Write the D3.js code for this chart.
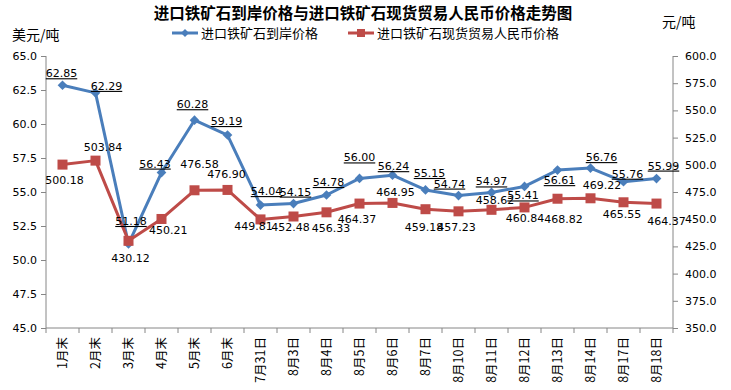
<!DOCTYPE html>
<html><head><meta charset="utf-8">
<script src="https://cdn.jsdelivr.net/npm/d3@7"></script>
<style>body{margin:0;background:#fff}svg{display:block}</style>
</head><body><svg id="c" width="731" height="390"></svg>
<script>
const title = "进口铁矿石到岸价格与进口铁矿石现货贸易人民币价格走势图";
const seriesNames = ["进口铁矿石到岸价格", "进口铁矿石现货贸易人民币价格"];
const leftUnit = "美元/吨";
const rightUnit = "元/吨";
const categories = ["1月末","2月末","3月末","4月末","5月末","6月末","7月31日","8月3日","8月4日","8月5日","8月6日","8月7日","8月10日","8月11日","8月12日","8月13日","8月14日","8月17日","8月18日"];
const usdPrice = [62.85,62.29,51.18,56.43,60.28,59.19,54.04,54.15,54.78,56.00,56.24,55.15,54.74,54.97,55.41,56.61,56.76,55.76,55.99];
const rmbPrice = [500.18,503.84,430.12,450.21,476.58,476.90,449.81,452.48,456.33,464.37,464.95,459.18,457.23,458.62,460.84,468.82,469.22,465.55,464.37];
const leftTicks = [45.0,47.5,50.0,52.5,55.0,57.5,60.0,62.5,65.0];
const rightTicks = [350.0,375.0,400.0,425.0,450.0,475.0,500.0,525.0,550.0,575.0,600.0];

// layout: label offsets [dx (centre), dy (baseline)] relative to each point
const usdLabelOffset = [[-1,-8],[11,-3],[2.5,-19],[-6.5,-5],[-2,-12],[-1,-10],[6,-10],[2,-8],[2,-9],[0,-17],[1,-5],[4,-13],[-9,-8],[0,-7],[-1.5,13],[2,14],[11,-7],[4,-4],[7,-9]];
const rmbLabelOffset = [[2,19],[7.5,-10],[2,21],[6.7,15],[5,-22],[-1,-12],[-7,11],[-3,14],[4.5,20],[-2.5,19],[3,-7],[-1.5,22],[-2,20],[3.5,-6],[0.5,15],[6,24],[11.5,-9],[-1.5,16],[10,21]];

const blue = "#4A7EBB", red = "#BE4B48";
const svg = d3.select("#c");
const m = {l: 46, r: 673, t: 56, b: 328};
const numFont = "'DejaVu Sans', Verdana, sans-serif";
const cjkFont = "'Noto Sans CJK SC', sans-serif";

const x = d3.scaleBand().domain(categories).range([m.l, m.r]).padding(0);
const yL = d3.scaleLinear().domain([45, 65]).range([m.b, m.t]);
const yR = d3.scaleLinear().domain([350, 600]).range([m.b, m.t]);
const cx = c => x(c) + x.bandwidth() / 2;

// title
svg.append("text").attr("x", 363).attr("y", 19).attr("text-anchor", "middle")
  .attr("font-family", cjkFont).attr("font-weight", "bold").attr("font-size", 15.5)
  .attr("fill", "#000").text(title);
svg.append("text").attr("x", 12).attr("y", 40).attr("font-family", cjkFont)
  .attr("font-size", 14).text(leftUnit);
svg.append("text").attr("x", 662).attr("y", 27).attr("font-family", cjkFont)
  .attr("font-size", 14).text(rightUnit);

// legend
const lg = svg.append("g").attr("font-family", cjkFont).attr("font-size", 13);
lg.append("line").attr("x1", 172).attr("x2", 198).attr("y1", 33).attr("y2", 33).attr("stroke", blue).attr("stroke-width", 3);
lg.append("path").attr("d", d3.symbol(d3.symbolDiamond2, 40)()).attr("transform", "translate(185,33)").attr("fill", blue);
lg.append("text").attr("x", 201).attr("y", 38).text(seriesNames[0]);
lg.append("line").attr("x1", 348).attr("x2", 374).attr("y1", 33).attr("y2", 33).attr("stroke", red).attr("stroke-width", 3);
lg.append("rect").attr("x", 357).attr("y", 29).attr("width", 8).attr("height", 8).attr("fill", red);
lg.append("text").attr("x", 377).attr("y", 38).text(seriesNames[1]);

// axes
const axL = svg.append("g").attr("transform", `translate(${m.l},0)`)
  .call(d3.axisLeft(yL).tickValues(leftTicks).tickFormat(d3.format(".1f")).tickSize(5).tickPadding(4));
const axR = svg.append("g").attr("transform", `translate(${m.r},0)`)
  .call(d3.axisRight(yR).tickValues(rightTicks).tickFormat(d3.format(".1f")).tickSize(5).tickPadding(7));
[axL, axR].forEach(a => {
  a.select(".domain").attr("stroke", "#868686").attr("d", `M0,${m.t}V${m.b}`);
  a.selectAll(".tick line").attr("stroke", "#868686");
  a.selectAll("text").attr("font-family", numFont).attr("font-size", 11).attr("fill", "#000");
});

// x axis
const xg = svg.append("g");
xg.append("line").attr("x1", m.l).attr("x2", m.r).attr("y1", m.b).attr("y2", m.b).attr("stroke", "#868686");
const bounds = categories.map(c => x(c)).concat([m.r]);
xg.selectAll("line.tk").data(bounds).join("line").attr("class", "tk")
  .attr("x1", d => d).attr("x2", d => d).attr("y1", m.b).attr("y2", m.b + 5).attr("stroke", "#868686");
xg.selectAll("text").data(categories).join("text")
  .attr("transform", d => `translate(${cx(d) + 4},${m.b + 9}) rotate(-90)`)
  .attr("text-anchor", "end").attr("font-family", cjkFont).attr("font-size", 12.5).attr("fill", "#000")
  .text(d => d);

// lines
const idx = d3.range(categories.length);
svg.append("path").datum(idx).attr("fill", "none").attr("stroke", blue).attr("stroke-width", 3)
  .attr("stroke-linejoin", "round")
  .attr("d", d3.line().x(i => cx(categories[i])).y(i => yL(usdPrice[i])));
svg.append("path").datum(idx).attr("fill", "none").attr("stroke", red).attr("stroke-width", 3)
  .attr("stroke-linejoin", "round")
  .attr("d", d3.line().x(i => cx(categories[i])).y(i => yR(rmbPrice[i])));

svg.selectAll("path.dm").data(idx).join("path").attr("class", "dm")
  .attr("d", d3.symbol(d3.symbolDiamond2, 60)())
  .attr("transform", i => `translate(${cx(categories[i])},${yL(usdPrice[i])})`).attr("fill", blue);
svg.selectAll("rect.sq").data(idx).join("rect").attr("class", "sq")
  .attr("x", i => cx(categories[i]) - 5).attr("y", i => yR(rmbPrice[i]) - 5)
  .attr("width", 10).attr("height", 10).attr("fill", red);

// data labels
svg.selectAll("text.ul").data(idx).join("text").attr("class", "ul")
  .attr("x", i => cx(categories[i]) + usdLabelOffset[i][0])
  .attr("y", i => yL(usdPrice[i]) + usdLabelOffset[i][1])
  .attr("text-anchor", "middle").attr("font-family", numFont).attr("font-size", 11)
  .attr("text-decoration", "underline").attr("fill", "#000")
  .text(i => d3.format(".2f")(usdPrice[i]));
svg.selectAll("text.rl").data(idx).join("text").attr("class", "rl")
  .attr("x", i => cx(categories[i]) + rmbLabelOffset[i][0])
  .attr("y", i => yR(rmbPrice[i]) + rmbLabelOffset[i][1])
  .attr("text-anchor", "middle").attr("font-family", numFont).attr("font-size", 11).attr("fill", "#000")
  .text(i => d3.format(".2f")(rmbPrice[i]));
</script></body></html>
